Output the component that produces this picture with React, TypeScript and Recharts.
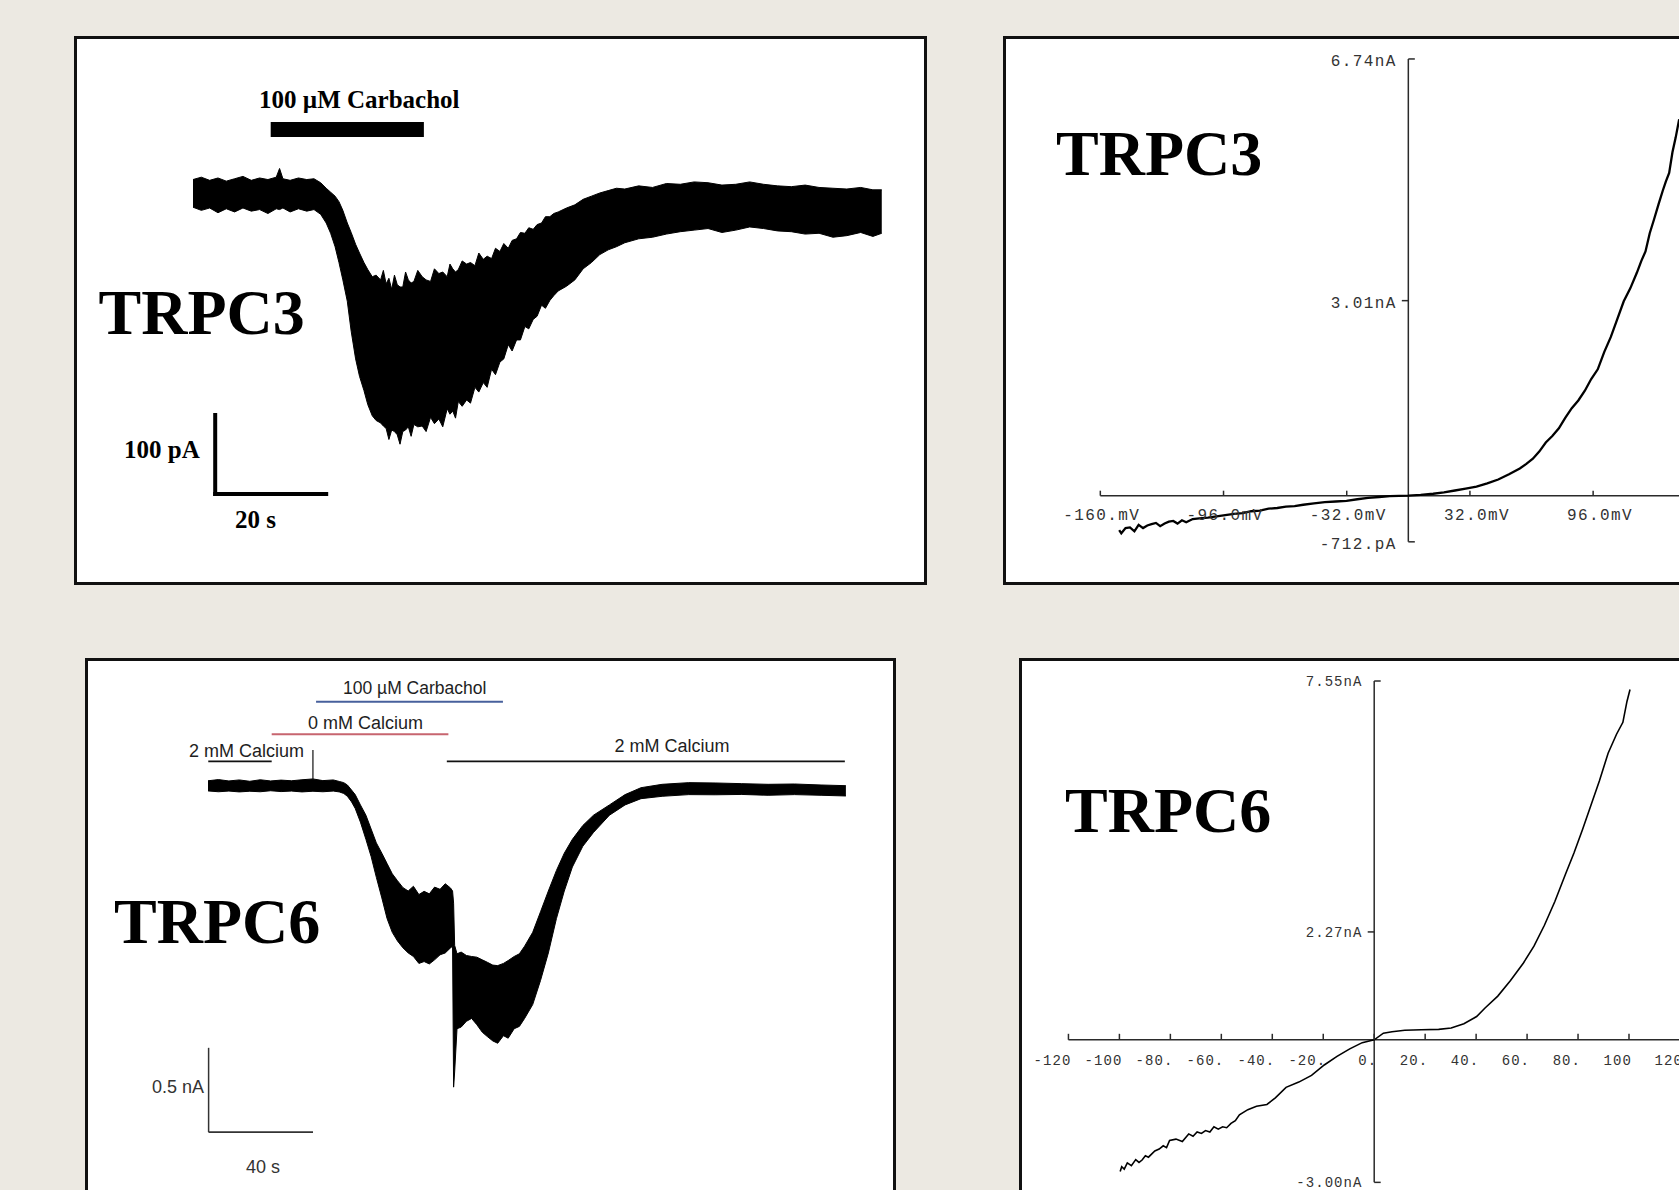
import React from 'react';
import {
  ComposedChart,
  Area,
  Line,
  XAxis,
  YAxis,
  ReferenceLine,
  ReferenceArea,
  ReferenceDot,
} from 'recharts';

// ---------------------------------------------------------------------------
// TRPC3 whole-cell current trace: time (s) and noise envelope (pA)
// ---------------------------------------------------------------------------
const TRPC3_TIME = [
  0.0, 1.5, 3.0, 4.5, 6.0, 7.5, 9.0, 10.5, 12.0, 13.5, 15.0, 15.6, 16.2, 17.5, 19.0, 20.5, 21.8,
  23.0, 24.0, 24.8, 25.6, 26.3, 27.0, 27.8, 28.5, 29.3, 30.0, 30.8, 31.5, 32.3, 33.0, 33.8, 34.3,
  34.8, 35.3, 35.8, 36.3, 36.8, 37.3, 37.8, 38.3, 38.8, 39.3, 39.8, 40.5, 41.3, 42.0, 42.8, 43.5,
  44.3, 45.0, 45.8, 46.3, 46.8, 47.3, 47.8, 48.5, 49.3, 50.0, 50.8, 51.5, 52.3, 53.0, 53.8, 54.5,
  55.3, 56.0, 56.8, 57.5, 58.3, 59.0, 59.8, 60.5, 61.3, 62.0, 62.8, 63.5, 64.3, 65.0, 65.8, 67.3,
  68.8, 70.3, 71.8, 73.3, 74.8, 76.3, 77.8, 80.3, 82.8, 85.3, 87.8, 90.3, 92.8, 95.3, 97.8, 100.3,
  102.8, 105.3, 107.8, 110.3, 112.8, 115.3, 117.8, 120.3, 122.5, 124.1,
];
const TRPC3_UPPER = [
  17, 20, 16, 19, 15, 18, 21, 16, 19, 17, 20, 31, 18, 16, 19, 17, 18,
  13, 6, 1, -4, -11, -22, -38, -50, -65, -76, -88, -97, -106, -104, -110, -98,
  -115, -108, -122, -104, -116, -119, -119, -100, -110, -114, -112, -98, -106, -110, -112, -96,
  -102, -100, -106, -90, -96, -100, -97, -86, -90, -88, -92, -76, -84, -80, -83, -70,
  -74, -64, -70, -60, -58, -50, -51, -44, -46, -40, -38, -30, -30, -26, -24, -19,
  -15, -8, -4, 0, 3, 6, 5, 9, 7, 12, 11, 14, 13, 10, 11, 14,
  11, 9, 8, 10, 7, 6, 5, 7, 4, 4,
];
const TRPC3_LOWER = [
  -18, -22, -19, -25, -20, -24, -19, -23, -21, -26, -20, -21, -19, -24, -20, -23, -21,
  -27, -38, -51, -68, -88, -110, -137, -175, -210, -232, -250, -268, -282, -288, -291, -295,
  -298, -312, -300, -302, -306, -318, -302, -300, -296, -308, -293, -296, -295, -302, -284, -292,
  -286, -296, -273, -280, -276, -285, -264, -270, -262, -266, -246, -252, -240, -246, -223, -230,
  -214, -210, -192, -200, -186, -186, -169, -172, -160, -156, -142, -146, -136, -130, -124, -118,
  -110, -96, -88, -78, -72, -68, -63, -58, -56, -52, -49, -47, -45, -50, -47, -43,
  -45, -48, -49, -52, -51, -56, -54, -50, -55, -51,
];
// Carbachol application window (s)
const TRPC3_CARBACHOL = [14.0, 41.6];
// Scale bar: 20 s by 100 pA
const TRPC3_SCALE_DT = 20;
const TRPC3_SCALE_DI = 100;

// ---------------------------------------------------------------------------
// TRPC6 whole-cell current trace: time (s) and noise envelope (nA)
// ---------------------------------------------------------------------------
const TRPC6_TIME = [
  0.0, 4.0, 8.0, 12.0, 16.0, 20.0, 24.0, 28.0, 32.0, 36.0, 40.2, 44.0, 48.0, 50.3, 52.0, 53.4,
  55.0, 56.4, 58.4, 60.5, 62.5, 64.5, 66.6, 68.6, 70.6, 72.6, 74.7, 76.7, 78.7, 80.8, 82.8, 84.8,
  86.8, 88.9, 90.9, 92.9, 93.7, 94.1, 94.5, 95.4, 97.0, 99.0, 101.0, 103.0, 105.1, 107.0, 109.1,
  111.0, 113.2, 115.0, 117.3, 119.3, 121.3, 124.4, 127.4, 130.4, 133.5, 136.5, 139.6, 143.6,
  147.7, 153.8, 159.8, 165.9, 174.0, 184.2, 194.3, 204.5, 214.6, 224.7, 234.9, 244.4,
];
const TRPC6_UPPER = [
  0.025, 0.032, 0.024, 0.03, 0.022, 0.031, 0.024, 0.029, 0.025, 0.031, 0.036, 0.026, 0.03, 0.021,
  0.014, 0.0, -0.03, -0.057, -0.118, -0.179, -0.261, -0.343, -0.404, -0.465, -0.526, -0.567,
  -0.608, -0.628, -0.6, -0.649, -0.63, -0.645, -0.605, -0.618, -0.585, -0.61, -0.628, -0.7,
  -0.95, -1.0, -0.99, -1.01, -1.016, -1.02, -1.036, -1.05, -1.067, -1.07, -1.057, -1.04, -1.016,
  -1.0, -0.955, -0.873, -0.751, -0.628, -0.506, -0.404, -0.322, -0.24, -0.179, -0.118, -0.057,
  -0.016, 0.004, 0.014, 0.012, 0.008, 0.004, 0.006, 0.0, -0.004,
];
const TRPC6_LOWER = [
  -0.035, -0.04, -0.036, -0.041, -0.037, -0.04, -0.034, -0.039, -0.036, -0.041, -0.037, -0.04,
  -0.036, -0.041, -0.05, -0.067, -0.1, -0.139, -0.22, -0.322, -0.424, -0.547, -0.669, -0.791,
  -0.873, -0.924, -0.965, -0.995, -1.016, -1.057, -1.046, -1.06, -1.036, -1.006, -0.995, -0.965,
  -0.955, -1.79, -1.7, -1.444, -1.434, -1.4, -1.383, -1.42, -1.465, -1.49, -1.516, -1.53, -1.485,
  -1.5, -1.444, -1.43, -1.383, -1.301, -1.158, -0.995, -0.791, -0.628, -0.486, -0.363, -0.281,
  -0.179, -0.118, -0.081, -0.067, -0.057, -0.058, -0.056, -0.061, -0.057, -0.061, -0.065,
];
// Solution exchange periods (s)
const TRPC6_CA_BEFORE = [0.1, 24.4];
const TRPC6_ZERO_CA = [24.4, 92.1];
const TRPC6_CARBACHOL = [41.4, 113.0];
const TRPC6_CA_AFTER = [91.5, 244.0];
const TRPC6_SWITCH_MARK = 40.2;
// Scale bar: 40 s by 0.5 nA
const TRPC6_SCALE_DT = 40;
const TRPC6_SCALE_DI = 0.5;

// ---------------------------------------------------------------------------
// TRPC3 current-voltage relation (mV, nA)
// ---------------------------------------------------------------------------
const TRPC3_IV_MV = [
  -150.2, -149.1, -146.9, -144.6, -142.3, -140.1, -137.8, -135.6, -133.4, -131.1, -128.9, -126.6,
  -124.4, -122.1, -119.9, -117.6, -115.4, -112.0, -108.6, -104.1, -99.6, -95.1, -90.6, -86.1,
  -81.6, -77.1, -72.6, -68.1, -63.6, -59.1, -54.6, -49.0, -43.4, -37.7, -32.1, -26.5, -20.9,
  -15.2, -9.6, 0, 6.4, 12.9, 18.5, 24.2, 29.8, 35.4, 41.0, 46.7, 52.3, 57.9, 61.3, 64.7, 68.0,
  71.4, 74.8, 78.2, 81.5, 84.9, 88.3, 91.7, 95.0, 98.4, 101.8, 105.2, 108.5, 111.9, 115.3, 118.7,
  121.0, 123.2, 125.4, 127.7, 130.0, 132.2, 133.8, 135.5, 137.2, 138.9, 140.7,
];
const TRPC3_IV_NA = [
  -0.53, -0.58, -0.5, -0.49, -0.55, -0.45, -0.5, -0.46, -0.44, -0.42, -0.47, -0.43,
  -0.4, -0.39, -0.43, -0.38, -0.41, -0.36, -0.35, -0.34, -0.32, -0.3, -0.28, -0.27,
  -0.24, -0.23, -0.2, -0.19, -0.17, -0.16, -0.14, -0.12, -0.1, -0.09, -0.08, -0.055, -0.035,
  -0.02, -0.008, 0, 0.012, 0.03, 0.05, 0.08, 0.11, 0.14, 0.19, 0.25, 0.33, 0.42, 0.49, 0.57, 0.68,
  0.82, 0.92, 1.04, 1.2, 1.35, 1.47, 1.62, 1.8, 1.95, 2.22, 2.45, 2.72, 3.0, 3.2, 3.44,
  3.62, 3.77, 4.05, 4.27, 4.5, 4.71, 4.85, 4.98, 5.3, 5.53, 5.81,
];
const TRPC3_IV_XRANGE = [-160, 160];
const TRPC3_IV_XTICKS = [-160, -96, -32, 32, 96];
const TRPC3_IV_XLABELS = ['-160.mV', '-96.0mV', '-32.0mV', '32.0mV', '96.0mV'];
const TRPC3_IV_YTICKS = [-0.712, 3.01, 6.74];
const TRPC3_IV_YLABELS = ['-712.pA', '3.01nA', '6.74nA'];

// ---------------------------------------------------------------------------
// TRPC6 current-voltage relation (mV, nA)
// ---------------------------------------------------------------------------
const TRPC6_IV_MV = [
  -99.7, -99.1, -98.1, -96.9, -95.3, -93.6, -92.3, -91.1, -89.8, -88.6, -86.1, -84.4, -82.8,
  -81.5, -80.3, -77.8, -75.3, -72.8, -71.1, -69.5, -67.8, -66.2, -64.5, -62.9, -61.2, -59.5,
  -57.9, -56.2, -54.5, -52.9, -49.6, -46.2, -42.1, -38.8, -34.6, -29.6, -24.6, -19.6, -14.6,
  -9.6, -4.7, 0, 3.6, 7.0, 12.0, 18.6, 25.3, 30.2, 35.2, 40.2, 43.5, 48.5, 53.5, 58.5, 62.7,
  66.8, 70.9, 75.1, 78.4, 81.8, 85.1, 88.4, 91.8, 95.1, 97.6, 99.2, 100.4,
];
const TRPC6_IV_NA = [
  -2.77, -2.67, -2.72, -2.59, -2.65, -2.52, -2.58, -2.53, -2.44, -2.47, -2.34, -2.3, -2.23,
  -2.27, -2.12, -2.09, -2.14, -1.98, -2.03, -1.94, -1.97, -1.91, -1.94, -1.83, -1.88, -1.83,
  -1.85, -1.76, -1.7, -1.58, -1.47, -1.4, -1.36, -1.22, -1.0, -0.89, -0.75, -0.53, -0.35,
  -0.19, -0.06, 0, 0.14, 0.17, 0.2, 0.21, 0.22, 0.25, 0.34, 0.49, 0.67, 0.92, 1.25, 1.61, 1.97,
  2.41, 2.91, 3.49, 3.93, 4.43, 4.94, 5.45, 6.03, 6.43, 6.68, 7.12, 7.37,
];
const TRPC6_IV_XRANGE = [-120, 120];
const TRPC6_IV_XTICKS = [-120, -100, -80, -60, -40, -20, 0, 20, 40, 60, 80, 100, 120];
const TRPC6_IV_XLABELS = ['-120', '-100', '-80.', '-60.', '-40.', '-20.', '0.', '20.', '40.', '60.', '80.', '100', '120'];
const TRPC6_IV_YTICKS = [-3.0, 2.27, 7.55];
const TRPC6_IV_YLABELS = ['-3.00nA', '2.27nA', '7.55nA'];

// ---------------------------------------------------------------------------
// Styling
// ---------------------------------------------------------------------------
const PAGE_BG = '#ece9e2';
const SERIF = "'Liberation Serif', 'Times New Roman', serif";
const SANS = "'Liberation Sans', Arial, sans-serif";
const MONO = "'Liberation Mono', 'DejaVu Sans Mono', monospace";
const AXIS = '#2a2a2a';
const NO_MARGIN = { top: 0, right: 0, bottom: 0, left: 0 };

const bandRows = (time: number[], upper: number[], lower: number[]) =>
  time.map((t, k) => ({ t, band: [lower[k], upper[k]] }));
const ivRows = (mv: number[], na: number[]) => mv.map((v, k) => ({ v, i: na[k] }));

type AxisStyle = {
  fontSize: number;
  spacing: number;
  tickLen: number;
  xEnd: (cx: number) => number;
  xDy: number;
  yGap: number;
  yDy: number;
};

const TRPC3_AXIS: AxisStyle = {
  fontSize: 16,
  spacing: 1.4,
  tickLen: 5,
  xEnd: (cx) => cx + 40,
  xDy: 20,
  yGap: 11.6,
  yDy: 3.5,
};
const TRPC6_AXIS: AxisStyle = {
  fontSize: 14,
  spacing: 1.06,
  tickLen: 6,
  xEnd: (cx) => cx + 3,
  xDy: 20.7,
  yGap: 11.7,
  yDy: 1,
};

function xTickShape(label: string, s: AxisStyle) {
  return (p: any) => (
    <g>
      <line x1={p.cx} y1={p.cy} x2={p.cx} y2={p.cy - s.tickLen} stroke={AXIS} strokeWidth={1.5} />
      <text
        x={s.xEnd(p.cx)}
        y={p.cy + s.xDy}
        textAnchor="end"
        dominantBaseline="central"
        fontFamily={MONO}
        fontSize={s.fontSize}
        letterSpacing={s.spacing}
        fill="#333"
      >
        {label}
      </text>
    </g>
  );
}

function yTickShape(label: string, dir: number, s: AxisStyle) {
  return (p: any) => (
    <g>
      <line x1={p.cx} y1={p.cy} x2={p.cx + dir * 6.5} y2={p.cy} stroke={AXIS} strokeWidth={1.5} />
      <text
        x={p.cx - s.yGap}
        y={p.cy + s.yDy}
        textAnchor="end"
        dominantBaseline="central"
        fontFamily={MONO}
        fontSize={s.fontSize}
        letterSpacing={s.spacing}
        fill="#333"
      >
        {label}
      </text>
    </g>
  );
}

function Panel(props: { left: number; top: number; width: number; height: number; children: React.ReactNode }) {
  return (
    <div
      style={{
        position: 'absolute',
        left: props.left,
        top: props.top,
        width: props.width,
        height: props.height,
        boxSizing: 'border-box',
        border: '3px solid #111',
        background: '#fff',
        overflow: 'hidden',
      }}
    >
      {props.children}
    </div>
  );
}

function TraceTRPC3() {
  const data = bandRows(TRPC3_TIME, TRPC3_UPPER, TRPC3_LOWER);
  const barT = 4.0;
  const barI = -381;
  return (
    <ComposedChart width={847} height={543} data={data} margin={NO_MARGIN}>
      <XAxis type="number" dataKey="t" domain={[-20.9, 131.71]} allowDataOverflow hide />
      <YAxis type="number" domain={[-492.4, 194.9]} allowDataOverflow hide />
      <ReferenceArea
        x1={TRPC3_CARBACHOL[0]}
        x2={TRPC3_CARBACHOL[1]}
        y1={70.9}
        y2={89.9}
        fill="#000"
        fillOpacity={1}
        stroke="none"
      />
      <Area
        type="linear"
        dataKey="band"
        stroke="#000"
        strokeWidth={1}
        fill="#000"
        fillOpacity={1}
        dot={false}
        activeDot={false}
        isAnimationActive={false}
      />
      <ReferenceLine
        segment={[{ x: barT, y: barI + TRPC3_SCALE_DI }, { x: barT, y: barI }]}
        stroke="#000"
        strokeWidth={4}
        strokeLinecap="square"
      />
      <ReferenceLine
        segment={[{ x: barT, y: barI }, { x: barT + TRPC3_SCALE_DT, y: barI }]}
        stroke="#000"
        strokeWidth={4}
        strokeLinecap="square"
      />
    </ComposedChart>
  );
}

function TraceTRPC6() {
  const data = bandRows(TRPC6_TIME, TRPC6_UPPER, TRPC6_LOWER);
  const barT = 0.23;
  const barI = -2.057;
  const caLevel = 0.14;
  const zeroCaLevel = 0.3;
  const cchLevel = 0.4935;
  return (
    <ComposedChart width={805} height={540} data={data} margin={NO_MARGIN}>
      <XAxis type="number" dataKey="t" domain={[-45.98, 262.45]} allowDataOverflow hide />
      <YAxis type="number" domain={[-2.4645, 0.7346]} allowDataOverflow hide />
      <ReferenceLine
        segment={[{ x: TRPC6_CA_BEFORE[0], y: caLevel }, { x: TRPC6_CA_BEFORE[1], y: caLevel }]}
        stroke="#111"
        strokeWidth={1.6}
      />
      <ReferenceLine
        segment={[{ x: TRPC6_ZERO_CA[0], y: zeroCaLevel }, { x: TRPC6_ZERO_CA[1], y: zeroCaLevel }]}
        stroke="#c7656f"
        strokeWidth={2}
      />
      <ReferenceLine
        segment={[{ x: TRPC6_CARBACHOL[0], y: cchLevel }, { x: TRPC6_CARBACHOL[1], y: cchLevel }]}
        stroke="#47609c"
        strokeWidth={2}
      />
      <ReferenceLine
        segment={[{ x: TRPC6_CA_AFTER[0], y: caLevel }, { x: TRPC6_CA_AFTER[1], y: caLevel }]}
        stroke="#111"
        strokeWidth={1.6}
      />
      <ReferenceLine
        segment={[{ x: TRPC6_SWITCH_MARK, y: 0.207 }, { x: TRPC6_SWITCH_MARK, y: 0.03 }]}
        stroke="#111"
        strokeWidth={1.2}
      />
      <Area
        type="linear"
        dataKey="band"
        stroke="#000"
        strokeWidth={1}
        fill="#000"
        fillOpacity={1}
        dot={false}
        activeDot={false}
        isAnimationActive={false}
      />
      <ReferenceLine
        segment={[{ x: barT, y: barI + TRPC6_SCALE_DI }, { x: barT, y: barI }]}
        stroke="#333"
        strokeWidth={1.5}
      />
      <ReferenceLine
        segment={[{ x: barT, y: barI }, { x: barT + TRPC6_SCALE_DT, y: barI }]}
        stroke="#333"
        strokeWidth={1.8}
      />
    </ComposedChart>
  );
}

function IVPlot(props: {
  width: number;
  height: number;
  xDomain: number[];
  yDomain: number[];
  mv: number[];
  na: number[];
  xRange: number[];
  xTicks: number[];
  xLabels: string[];
  yTicks: number[];
  yLabels: string[];
  axis: AxisStyle;
  curveWidth: number;
}) {
  const data = ivRows(props.mv, props.na);
  const yMin = props.yTicks[0];
  const yMax = props.yTicks[props.yTicks.length - 1];
  const yDirs = [1, -1, 1];
  return (
    <ComposedChart width={props.width} height={props.height} data={data} margin={NO_MARGIN}>
      <XAxis type="number" dataKey="v" domain={props.xDomain} allowDataOverflow hide />
      <YAxis type="number" domain={props.yDomain} allowDataOverflow hide />
      <ReferenceLine
        segment={[{ x: props.xRange[0], y: 0 }, { x: props.xRange[1], y: 0 }]}
        stroke={AXIS}
        strokeWidth={1.5}
      />
      <ReferenceLine segment={[{ x: 0, y: yMin }, { x: 0, y: yMax }]} stroke={AXIS} strokeWidth={1.5} />
      {props.xTicks.map((v, k) => (
        <ReferenceDot key={'x' + v} x={v} y={0} r={0} shape={xTickShape(props.xLabels[k], props.axis)} />
      ))}
      {props.yTicks.map((v, k) => (
        <ReferenceDot key={'y' + v} x={0} y={v} r={0} shape={yTickShape(props.yLabels[k], yDirs[k], props.axis)} />
      ))}
      <Line
        type="linear"
        dataKey="i"
        stroke="#000"
        strokeWidth={props.curveWidth}
        dot={false}
        activeDot={false}
        isAnimationActive={false}
      />
    </ComposedChart>
  );
}

export default function App() {
  const boldSerif = { fontFamily: SERIF, fontWeight: 700, fill: '#000' } as const;
  const sans = { fontFamily: SANS, fontSize: 18, fill: '#1e1e1e' } as const;
  return (
    <div
      style={{
        position: 'fixed',
        left: 0,
        top: 0,
        width: 1679,
        height: 1190,
        overflow: 'hidden',
        background: PAGE_BG,
      }}
    >
      <Panel left={74} top={36} width={853} height={549}>
        <TraceTRPC3 />
      </Panel>

      <Panel left={1003} top={36} width={800} height={549}>
        <IVPlot
          width={760}
          height={543}
          xDomain={[-209.0, 185.8]}
          yDomain={[-1.332, 7.048]}
          mv={TRPC3_IV_MV}
          na={TRPC3_IV_NA}
          xRange={TRPC3_IV_XRANGE}
          xTicks={TRPC3_IV_XTICKS}
          xLabels={TRPC3_IV_XLABELS}
          yTicks={TRPC3_IV_YTICKS}
          yLabels={TRPC3_IV_YLABELS}
          axis={TRPC3_AXIS}
          curveWidth={2.3}
        />
      </Panel>

      <Panel left={85} top={658} width={811} height={600}>
        <TraceTRPC6 />
      </Panel>

      <Panel left={1019} top={658} width={800} height={600}>
        <IVPlot
          width={700}
          height={540}
          xDomain={[-138.23, 136.5]}
          yDomain={[-3.392, 7.971]}
          mv={TRPC6_IV_MV}
          na={TRPC6_IV_NA}
          xRange={TRPC6_IV_XRANGE}
          xTicks={TRPC6_IV_XTICKS}
          xLabels={TRPC6_IV_XLABELS}
          yTicks={TRPC6_IV_YTICKS}
          yLabels={TRPC6_IV_YLABELS}
          axis={TRPC6_AXIS}
          curveWidth={1.6}
        />
      </Panel>

      <svg width={1679} height={1190} style={{ position: 'absolute', left: 0, top: 0, pointerEvents: 'none' }}>
        {/* TRPC3 trace annotations */}
        <text x={259} y={108} fontSize={25} {...boldSerif}>100 µM Carbachol</text>
        <text x={98.5} y={334} fontSize={64} {...boldSerif}>TRPC3</text>
        <text x={124} y={458} fontSize={25} {...boldSerif}>100 pA</text>
        <text x={235} y={528} fontSize={25} {...boldSerif}>20 s</text>

        {/* TRPC3 I-V title */}
        <text x={1056} y={175} fontSize={64} {...boldSerif}>TRPC3</text>

        {/* TRPC6 trace annotations */}
        <text x={343} y={694} {...sans} fontSize={17.5}>100 µM Carbachol</text>
        <text x={308} y={728.5} {...sans}>0 mM Calcium</text>
        <text x={189} y={757} {...sans}>2 mM Calcium</text>
        <text x={614.5} y={752} {...sans}>2 mM Calcium</text>
        <text x={114} y={942.5} fontSize={64} {...boldSerif}>TRPC6</text>
        <text x={204} y={1093} textAnchor="end" {...sans} fill="#333">0.5 nA</text>
        <text x={246} y={1173} {...sans} fill="#333">40 s</text>

        {/* TRPC6 I-V title */}
        <text x={1065} y={832} fontSize={64} {...boldSerif}>TRPC6</text>
      </svg>
    </div>
  );
}
